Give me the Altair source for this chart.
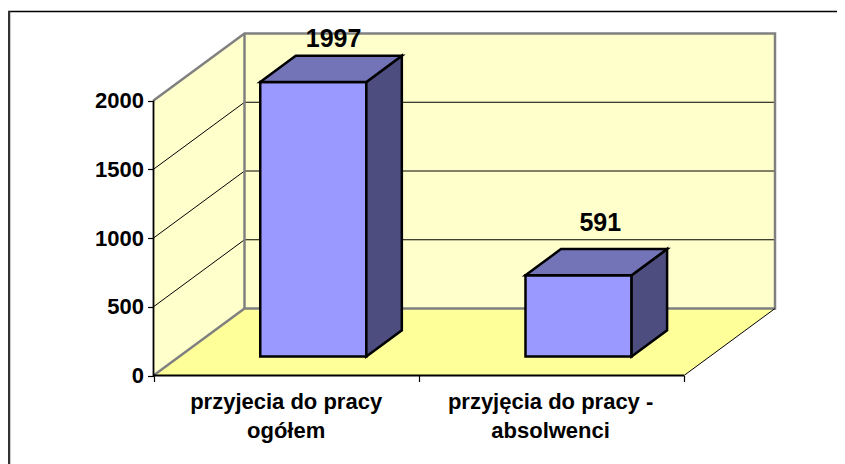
import altair as alt
import pandas as pd

# Data
categories = ["przyjecia do pracy\nogółem", "przyjęcia do pracy -\nabsolwenci"]
values = [1997, 591]
value_ticks = [0, 500, 1000, 1500, 2000]
grid_values = [500, 1000, 1500]

# Oblique projection: the depth axis expressed in category and value units
PX_PER_CAT = 265.25
PX_PER_VAL = 0.1375
DX = 91 / PX_PER_CAT
DY = 67 / PX_PER_VAL
N = len(categories)
VMAX = 2000
BAR_START, BAR_WIDTH = 0.305, 0.40
D_FRONT, D_BACK = 0.284, 0.674

W, H = 829, 456
ORIGIN_X, ORIGIN_Y = 153.5 - 8, 375.5 - 8
FONT = "Liberation Sans"
x_scale = alt.Scale(domain=[-ORIGIN_X / PX_PER_CAT, (W - ORIGIN_X) / PX_PER_CAT], nice=False, zero=False)
y_scale = alt.Scale(domain=[(ORIGIN_Y - H) / PX_PER_VAL, ORIGIN_Y / PX_PER_VAL], nice=False, zero=False)
x_axis = alt.Axis(values=list(range(N + 1)), labels=False, title=None, domain=False, grid=False,
                  tickColor="#000000", tickSize=6, tickWidth=1.2, offset=-(H - ORIGIN_Y))
y_axis = alt.Axis(values=value_ticks, format="d", title=None, domain=False, grid=False, tickColor="#000000",
                  tickSize=6, tickWidth=1.2, offset=-ORIGIN_X, labelFont=FONT, labelFontSize=22,
                  labelFontWeight="bold", labelColor="#000000", labelPadding=4)
X = alt.X("x:Q", scale=x_scale, axis=x_axis)
Y = alt.Y("y:Q", scale=y_scale, axis=y_axis)


def px(c, d):
    return c + d * DX


def py(v, d):
    return v + d * DY


def vface(pts, color, **kw):
    """Face with vertical sides: list of (x, y, y2)."""
    df = pd.DataFrame(pts, columns=["x", "y", "y2"])
    return alt.Chart(df).mark_area(color=color, **kw).encode(X, Y, y2="y2:Q")


def hface(pts, color, **kw):
    """Face with horizontal sides: list of (y, x, x2)."""
    df = pd.DataFrame(pts, columns=["y", "x", "x2"])
    return alt.Chart(df).mark_area(color=color, orient="horizontal", **kw).encode(Y, X, x2="x2:Q")


def polyline(segments, color, width):
    rows = []
    for i, seg in enumerate(segments):
        for k, (a, b) in enumerate(seg):
            rows.append({"x": a, "y": b, "seg": i, "k": k})
    return alt.Chart(pd.DataFrame(rows)).mark_line(color=color, strokeWidth=width).encode(
        X, Y, detail="seg:N", order="k:Q"
    )


WALL, FLOOR = "#FFFFCC", "#FFFF99"
layers = []

# Walls and floor
layers.append(vface([(px(0, 1), py(0, 1), py(VMAX, 1)), (px(N, 1), py(0, 1), py(VMAX, 1))], WALL))
layers.append(vface([(0, 0, VMAX), (DX, py(0, 1), py(VMAX, 1))], WALL))
layers.append(hface([(0, 0, N), (py(0, 1), DX, px(N, 1))], FLOOR))

# Gridlines
layers.append(polyline([[(0, v), (DX, py(v, 1)), (px(N, 1), py(v, 1))] for v in grid_values], "#000000", 1))

# Wall edges
layers.append(polyline([
    [(0, VMAX), (DX, py(VMAX, 1)), (px(N, 1), py(VMAX, 1)), (px(N, 1), py(0, 1)), (DX, py(0, 1)), (0, 0)],
    [(DX, py(VMAX, 1)), (DX, py(0, 1))],
], "#808080", 2.5))

# Floor outer edges and value axis line
layers.append(polyline([[(N, 0), (px(N, 1), py(0, 1))]], "#000000", 1))
layers.append(polyline([[(0, VMAX), (0, 0), (N, 0)]], "#000000", 1.8))

# Bars
for i, v in enumerate(values):
    a, b = i + BAR_START, i + BAR_START + BAR_WIDTH
    outline = dict(stroke="#000000", strokeWidth=2.5, strokeJoin="miter")
    layers.append(vface([(px(a, D_FRONT), py(0, D_FRONT), py(v, D_FRONT)),
                         (px(b, D_FRONT), py(0, D_FRONT), py(v, D_FRONT))], "#9999FF", **outline))
    layers.append(vface([(px(b, D_FRONT), py(0, D_FRONT), py(v, D_FRONT)),
                         (px(b, D_BACK), py(0, D_BACK), py(v, D_BACK))], "#4D4D80", **outline))
    layers.append(hface([(py(v, D_FRONT), px(a, D_FRONT), px(b, D_FRONT)),
                         (py(v, D_BACK), px(a, D_BACK), px(b, D_BACK))], "#7373B8", **outline))

# Value labels above each bar
label_nudge_x = [2.5, 4]
label_nudge_y = [3, 12]
labels = pd.DataFrame({
    "x": [px(i + BAR_START + BAR_WIDTH / 2, (D_FRONT + D_BACK) / 2) + label_nudge_x[i] / PX_PER_CAT for i in range(N)],
    "y": [py(v, D_BACK) + label_nudge_y[i] / PX_PER_VAL for i, v in enumerate(values)],
    "t": [str(v) for v in values],
})
layers.append(alt.Chart(labels).mark_text(font=FONT, fontSize=25, fontWeight="bold", baseline="alphabetic",
                                          dy=-6, color="#000000").encode(X, Y, text="t:N"))

# Category labels
cats = pd.DataFrame({"x": [0.5, 1.497], "y": [0, 0], "t": categories})
layers.append(alt.Chart(cats).mark_text(font=FONT, fontSize=22, fontWeight="bold", baseline="top", dy=16,
                                        lineBreak="\n", lineHeight=29, color="#000000").encode(X, Y, text="t:N"))

# Outer chart border (top and left edges)
frame_top = alt.Chart(pd.DataFrame({"a": [0]})).mark_rule(color="#000000", strokeWidth=1.5).encode(
    x=alt.value(0), x2=alt.value(W), y=alt.value(3.5))
frame_left = alt.Chart(pd.DataFrame({"a": [0]})).mark_rule(color="#333333", strokeWidth=2.5).encode(
    x=alt.value(1), y=alt.value(3), y2=alt.value(H))
layers += [frame_top, frame_left]

chart = alt.layer(*layers).properties(
    width=W, height=H, padding=0, autosize=alt.AutoSizeParams(type="none"), background="#FFFFFF"
).configure_view(stroke=None)

chart.save("out.html", embed_options={"renderer": "svg", "actions": False})
